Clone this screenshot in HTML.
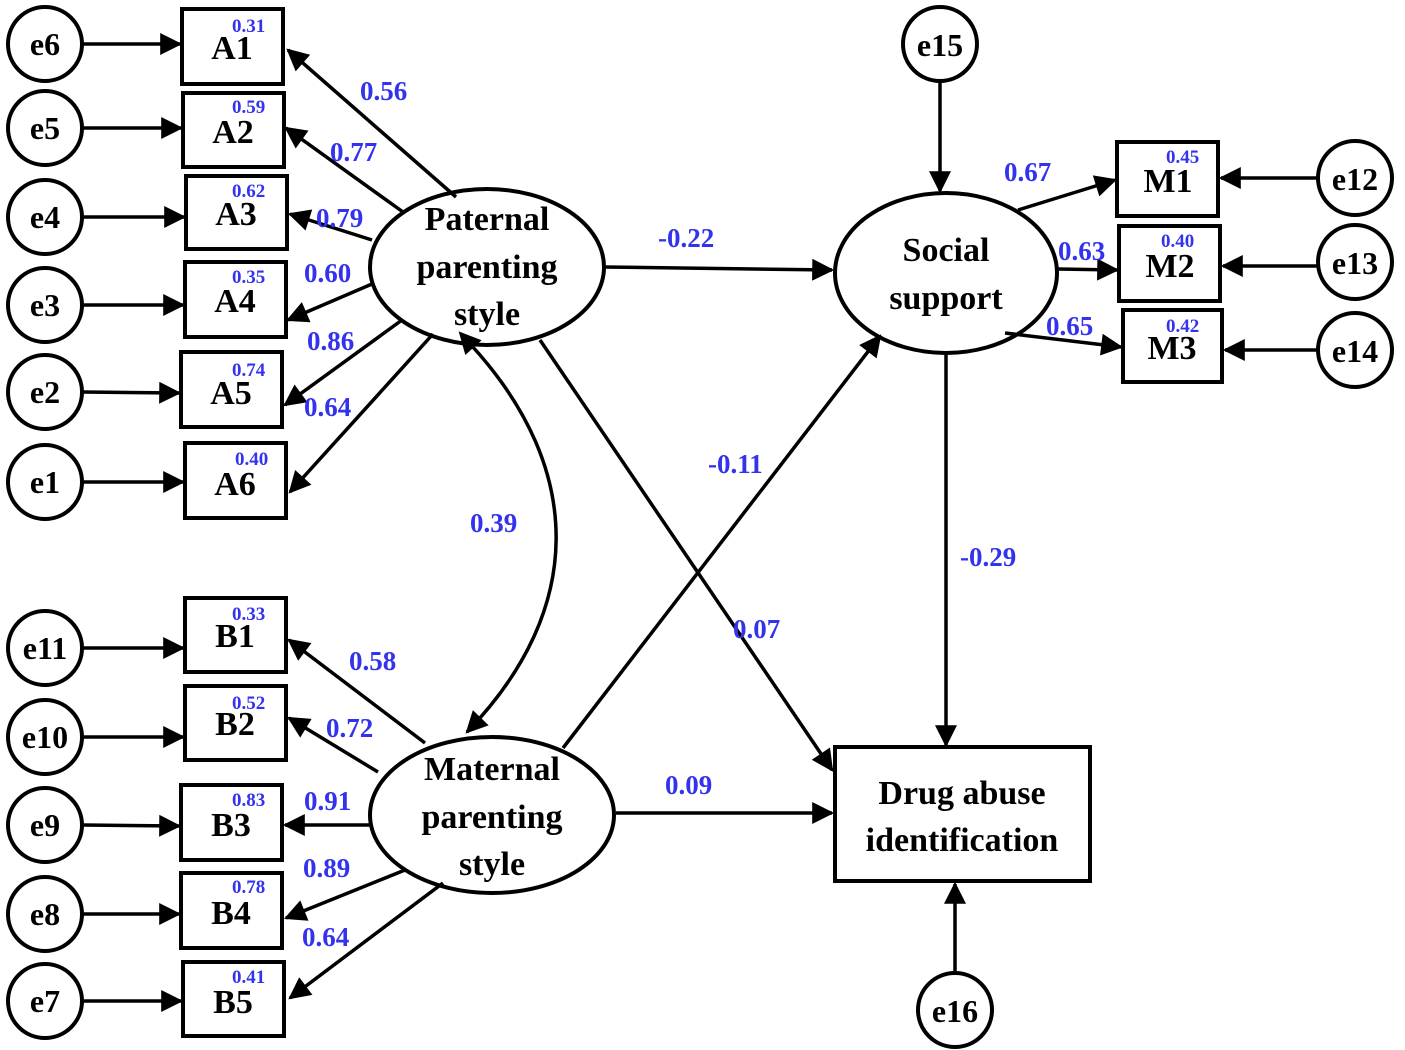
<!DOCTYPE html>
<html><head><meta charset="utf-8"><style>body{margin:0;background:#fff}svg{display:block}
text{font-family:"Liberation Serif",serif;font-weight:bold}
.n{font-size:34px;fill:#000}.e{font-size:32px;fill:#000}.w{font-size:27px;fill:#3333ee}.s{font-size:19px;fill:#3333ee}
</style></head><body>
<svg width="1405" height="1050" viewBox="0 0 1405 1050" xmlns="http://www.w3.org/2000/svg">
<defs>
<marker id="b" viewBox="0 0 10 10" refX="9" refY="5" markerWidth="26" markerHeight="22" orient="auto" markerUnits="userSpaceOnUse"><path d="M0,0 L10,5 L0,10z" fill="#000"/></marker>
<marker id="c" viewBox="0 0 10 10" refX="1" refY="5" markerWidth="26" markerHeight="22" orient="auto-start-reverse" markerUnits="userSpaceOnUse"><path d="M0,0 L10,5 L0,10z" fill="#000"/></marker></defs>
<g stroke="#000" stroke-width="4" fill="#fff">
<circle cx="45" cy="44" r="37"/><circle cx="45" cy="128" r="37"/><circle cx="45" cy="217" r="37"/><circle cx="45" cy="305" r="37"/><circle cx="45" cy="392" r="37"/><circle cx="45" cy="482" r="37"/>
<circle cx="45" cy="648" r="37"/><circle cx="45" cy="737" r="37"/><circle cx="45" cy="825" r="37"/><circle cx="45" cy="914" r="37"/><circle cx="45" cy="1001" r="37"/>
<rect x="182" y="9" width="101" height="75"/><rect x="183" y="93" width="101" height="74"/><rect x="186" y="176" width="101" height="73"/><rect x="185" y="262" width="101" height="75"/><rect x="181" y="352" width="101" height="75"/><rect x="185" y="443" width="101" height="75"/>
<rect x="185" y="598" width="101" height="74"/><rect x="185" y="686" width="101" height="74"/><rect x="181" y="785" width="101" height="75"/><rect x="181" y="873" width="101" height="75"/><rect x="183" y="962" width="101" height="74"/>
<ellipse cx="487" cy="267" rx="117" ry="78"/><ellipse cx="492" cy="815" rx="122" ry="78"/><ellipse cx="946" cy="273" rx="111" ry="80"/>
<rect x="835" y="747" width="255" height="134"/>
<circle cx="940" cy="44" r="37"/><circle cx="955" cy="1010" r="37"/>
<rect x="1117" y="142" width="101" height="74"/><rect x="1119" y="226" width="101" height="75"/><rect x="1123" y="310" width="99" height="72"/>
<circle cx="1355" cy="178" r="37"/><circle cx="1355" cy="262" r="37"/><circle cx="1355" cy="350" r="37"/>
</g>
<g stroke="#000" stroke-width="3.5" fill="none" marker-end="url(#b)">
<line x1="83" y1="44" x2="180" y2="44"/><line x1="83" y1="128" x2="181" y2="128"/><line x1="83" y1="217" x2="184" y2="217"/><line x1="83" y1="305" x2="183" y2="305"/><line x1="83" y1="392" x2="179" y2="393"/><line x1="83" y1="482" x2="183" y2="482"/>
<line x1="83" y1="648" x2="183" y2="648"/><line x1="83" y1="737" x2="183" y2="737"/><line x1="83" y1="825" x2="179" y2="826"/><line x1="83" y1="914" x2="179" y2="914"/><line x1="83" y1="1001" x2="181" y2="1001"/>
<line x1="456" y1="197" x2="288" y2="50"/><line x1="403" y1="212" x2="286" y2="128"/><line x1="372" y1="240" x2="290" y2="214"/><line x1="372" y1="284" x2="288" y2="320"/><line x1="402" y1="320" x2="285" y2="405"/><line x1="433" y1="334" x2="290" y2="492"/>
<line x1="425" y1="743" x2="289" y2="640"/><line x1="378" y1="772" x2="289" y2="718"/><line x1="372" y1="825" x2="285" y2="825"/><line x1="405" y1="870" x2="286" y2="918"/><line x1="443" y1="883" x2="290" y2="998"/>
<line x1="604" y1="267" x2="832" y2="270"/><line x1="540" y1="340" x2="832" y2="770"/><line x1="563" y1="748" x2="880" y2="336"/><line x1="616" y1="813" x2="832" y2="813"/>
<line x1="946" y1="353" x2="946" y2="745"/><line x1="940" y1="82" x2="940" y2="191"/><line x1="955" y1="972" x2="955" y2="884"/>
<line x1="1018" y1="210" x2="1115" y2="180"/><line x1="1058" y1="269" x2="1117" y2="270"/><line x1="1005" y1="333" x2="1121" y2="347"/>
<line x1="1317" y1="178" x2="1221" y2="178"/><line x1="1317" y1="266" x2="1223" y2="266"/><line x1="1317" y1="350" x2="1225" y2="350"/>
<path d="M472 346 C585 470 585 610 467 732" marker-start="url(#c)"/>
</g>
<g text-anchor="middle">
<text class="e" x="45" y="55">e6</text><text class="e" x="45" y="139">e5</text><text class="e" x="45" y="228">e4</text><text class="e" x="45" y="316">e3</text><text class="e" x="45" y="403">e2</text><text class="e" x="45" y="493">e1</text>
<text class="e" x="45" y="659">e11</text><text class="e" x="45" y="748">e10</text><text class="e" x="45" y="836">e9</text><text class="e" x="45" y="925">e8</text><text class="e" x="45" y="1012">e7</text>
<text class="n" x="232" y="59">A1</text><text class="n" x="233" y="143">A2</text><text class="n" x="236" y="225">A3</text><text class="n" x="235" y="312">A4</text><text class="n" x="231" y="404">A5</text><text class="n" x="235" y="495">A6</text>
<text class="n" x="235" y="647">B1</text><text class="n" x="235" y="735">B2</text><text class="n" x="231" y="836">B3</text><text class="n" x="231" y="924">B4</text><text class="n" x="233" y="1013">B5</text>
<text class="n" x="487" y="230">Paternal</text><text class="n" x="487" y="278">parenting</text><text class="n" x="487" y="325">style</text>
<text class="n" x="492" y="780">Maternal</text><text class="n" x="492" y="828">parenting</text><text class="n" x="492" y="875">style</text>
<text class="n" x="946" y="261">Social</text><text class="n" x="946" y="309">support</text>
<text class="n" x="962" y="804">Drug abuse</text><text class="n" x="962" y="851">identification</text>
<text class="e" x="940" y="56">e15</text><text class="e" x="955" y="1022">e16</text>
<text class="n" x="1168" y="192">M1</text><text class="n" x="1170" y="277">M2</text><text class="n" x="1172" y="359">M3</text>
<text class="e" x="1355" y="190">e12</text><text class="e" x="1355" y="274">e13</text><text class="e" x="1355" y="362">e14</text>
</g>
<g>
<text class="s" x="232" y="32">0.31</text><text class="s" x="232" y="113">0.59</text><text class="s" x="232" y="197">0.62</text><text class="s" x="232" y="283">0.35</text><text class="s" x="232" y="376">0.74</text><text class="s" x="235" y="465">0.40</text>
<text class="s" x="232" y="620">0.33</text><text class="s" x="232" y="709">0.52</text><text class="s" x="232" y="806">0.83</text><text class="s" x="232" y="893">0.78</text><text class="s" x="232" y="983">0.41</text>
<text class="s" x="1166" y="163">0.45</text><text class="s" x="1161" y="247">0.40</text><text class="s" x="1166" y="332">0.42</text>
<text class="w" x="360" y="100">0.56</text><text class="w" x="330" y="161">0.77</text><text class="w" x="316" y="227">0.79</text><text class="w" x="304" y="282">0.60</text><text class="w" x="307" y="350">0.86</text><text class="w" x="304" y="416">0.64</text>
<text class="w" x="349" y="670">0.58</text><text class="w" x="326" y="737">0.72</text><text class="w" x="304" y="810">0.91</text><text class="w" x="303" y="877">0.89</text><text class="w" x="302" y="946">0.64</text>
<text class="w" x="470" y="532">0.39</text><text class="w" x="658" y="247">-0.22</text><text class="w" x="708" y="473">-0.11</text><text class="w" x="733" y="638">0.07</text><text class="w" x="665" y="794">0.09</text><text class="w" x="960" y="566">-0.29</text>
<text class="w" x="1004" y="181">0.67</text><text class="w" x="1058" y="260">0.63</text><text class="w" x="1046" y="335">0.65</text>
</g>
</svg>
</body></html>
